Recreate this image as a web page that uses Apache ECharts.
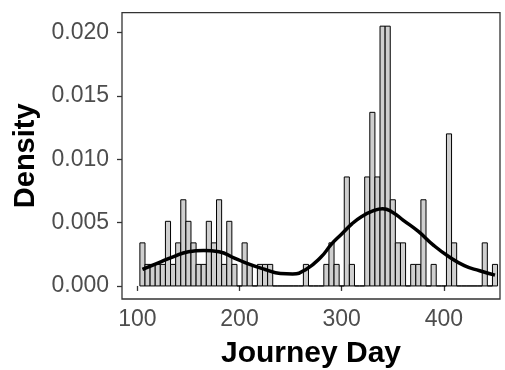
<!DOCTYPE html>
<html>
<head>
<meta charset="utf-8">
<script src="https://cdn.jsdelivr.net/npm/echarts@6/dist/echarts.min.js"></script>
<style>
html,body{margin:0;padding:0;background:#fff;}
#chart{width:505px;height:370px;}
</style>
</head>
<body>
<div id="chart"></div>
<script>
// Histogram bins (5-day bins centred on 105, 110, ... 450)
const binStart = 105;
const binWidth = 5;
const binDensity = [
  0.0034, 0.0017, 0.0017, 0.0017, 0.0017, 0.0051, 0.0017, 0.0034, 0.0068, 0.0051,
  0.0034, 0.0017, 0.0017, 0.0051, 0.0034, 0.0068, 0.0017, 0.0051, 0.0017, 0,
  0.0034, 0.0017, 0,      0.0017, 0.0017, 0.0017, 0,      0,      0,      0,
  0,      0,      0.0017, 0,      0,      0,      0.0017, 0.0034, 0.0017, 0,
  0.0086, 0.0017, 0,      0,      0.0086, 0.0137, 0.0086, 0.0205, 0.0205, 0.0068,
  0.0034, 0.0034, 0,      0.0017, 0.0017, 0.0068, 0,      0.0017, 0,      0,
  0.0120, 0.0034, 0,      0,      0,      0,      0,      0.0034, 0,      0.0017
];
// Density curve
const curveDay = [105,120,135,150,165,180,195,210,225,240,252,265,280,290,300,310,320,330,340,350,360,375,390,405,420,435,450];
const curveDensity = [0.0013,0.0018,0.0023,0.0027,0.0028,0.0027,0.0022,0.0017,0.0013,0.00098,0.00095,0.0013,0.0023,0.0033,0.0041,0.0049,0.0055,0.0059,0.0061,0.0058,0.0052,0.0043,0.0032,0.0023,0.0016,0.0012,0.00085];
const xTicks = [100, 200, 300, 400];
const yTicks = [0, 0.005, 0.010, 0.015, 0.020];

const histData = binDensity.map((d, i) => [binStart + i * binWidth, d]);
const curveData = curveDay.map((d, i) => [d, curveDensity[i]]);

const chart = echarts.init(document.getElementById('chart'), null, {renderer: 'canvas'});
const font = 'Liberation Sans, Arial, sans-serif';
chart.setOption({
  animation: false,
  grid: {left: 122, top: 12.6, right: 5, bottom: 71, outerBoundsMode: 'none', containLabel: false,
    show: true, borderColor: '#333', borderWidth: 1.3, backgroundColor: '#fff'},
  xAxis: {
    type: 'value', min: 85, max: 454.9,
    axisLine: {show: false},
    splitLine: {show: false},
    axisTick: {show: true, customValues: xTicks, length: 5, lineStyle: {color: '#333', width: 1.3}},
    axisLabel: {customValues: xTicks, fontSize: 23, color: '#4d4d4d', margin: 9, fontFamily: font},
    name: 'Journey Day', nameLocation: 'middle', nameGap: 40,
    nameTextStyle: {fontSize: 30, fontWeight: 'bold', color: '#000', fontFamily: font}
  },
  yAxis: {
    type: 'value', min: -0.00103, max: 0.02157,
    axisLine: {show: false},
    splitLine: {show: false},
    axisTick: {show: true, customValues: yTicks, length: 5, lineStyle: {color: '#333', width: 1.3}},
    axisLabel: {customValues: yTicks, fontSize: 23, color: '#4d4d4d', margin: 13, fontFamily: font,
      formatter: v => v.toFixed(3)},
    name: 'Density', nameLocation: 'middle', nameRotate: 90, nameGap: 80,
    nameTextStyle: {fontSize: 29, fontWeight: 'bold', color: '#000', fontFamily: font}
  },
  series: [
    {
      type: 'custom',
      data: histData,
      z: 2,
      renderItem: function (params, api) {
        const c = api.value(0), d = api.value(1);
        const p0 = api.coord([c - binWidth / 2, d]);
        const p1 = api.coord([c + binWidth / 2, 0]);
        return {
          type: 'rect',
          shape: {x: p0[0], y: p0[1], width: p1[0] - p0[0], height: p1[1] - p0[1]},
          style: {fill: '#cfcfcf', stroke: '#000', lineWidth: 1}
        };
      }
    },
    {
      type: 'line',
      data: curveData,
      smooth: true,
      showSymbol: false,
      z: 3,
      lineStyle: {color: '#000', width: 3.5}
    }
  ]
});
</script>
</body>
</html>
